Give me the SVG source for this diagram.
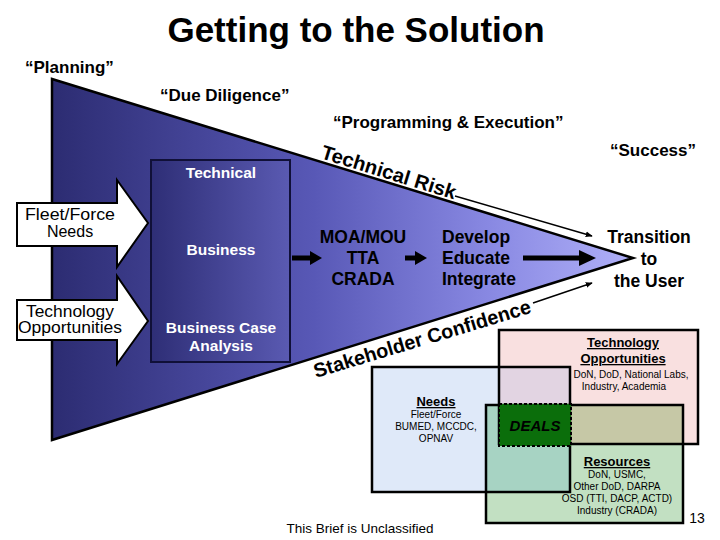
<svg xmlns="http://www.w3.org/2000/svg" width="720" height="540" viewBox="0 0 720 540">
<defs>
<linearGradient id="funnel" gradientUnits="userSpaceOnUse" x1="52" y1="0" x2="633" y2="0">
<stop offset="0" stop-color="#2c2c72"/>
<stop offset="0.45" stop-color="#5858b6"/>
<stop offset="0.75" stop-color="#8888e2"/>
<stop offset="1" stop-color="#b0b0f8"/>
</linearGradient>
<linearGradient id="boxg" gradientUnits="userSpaceOnUse" x1="151" y1="0" x2="290" y2="0">
<stop offset="0" stop-color="#2e2e76"/>
<stop offset="1" stop-color="#5a5ab2"/>
</linearGradient>
<marker id="thin" viewBox="0 0 10 10" refX="9" refY="5" markerWidth="7" markerHeight="7" orient="auto" markerUnits="userSpaceOnUse">
<path d="M0,1 L10,5 L0,9 z" fill="#000"/>
</marker>
<style>
text{font-family:"Liberation Sans",Arial,sans-serif;}
.b{font-weight:bold;}
.phase{font-size:17px;font-weight:bold;fill:#000;}
.wl{font-size:15.5px;font-weight:bold;fill:#fff;text-anchor:middle;}
.ml{font-size:17.5px;font-weight:bold;fill:#000;}
.ar{font-size:16px;fill:#000;text-anchor:middle;}
.sm{font-size:10px;fill:#000;text-anchor:middle;}
.hd{font-size:13px;font-weight:bold;fill:#000;text-anchor:middle;text-decoration:underline;}
.edge{font-size:20px;font-weight:bold;fill:#000;}
.blk{fill:#000;}
.wa{fill:#fff;stroke:#000;stroke-width:2;stroke-linejoin:miter;}
.vo{fill:none;stroke:#000;stroke-width:2.5;}
</style>
</defs>
<rect width="720" height="540" fill="#fff"/>

<text x="356" y="42" class="b" font-size="35" text-anchor="middle">Getting to the Solution</text>

<g id="phases">
<text x="25" y="73" class="phase">“Planning”</text>
<text x="160" y="101" class="phase">“Due Diligence”</text>
<text x="333" y="128" class="phase">“Programming &amp; Execution”</text>
<text x="610" y="156" class="phase">“Success”</text>
</g>

<g id="funnel-shape">
<polygon points="52,79 633,258 52,440" fill="url(#funnel)" stroke="#000" stroke-width="2.5" stroke-linejoin="miter" stroke-miterlimit="20"/>
</g>

<g id="analysis-box">
<rect x="151" y="160" width="139" height="202" fill="url(#boxg)" stroke="#101038" stroke-width="2"/>
<text x="221" y="178" class="wl">Technical</text>
<text x="221" y="255" class="wl">Business</text>
<text x="221" y="333" class="wl">Business Case</text>
<text x="221" y="351" class="wl">Analysis</text>
</g>

<g id="fleet-needs">
<polygon class="wa" points="17,203 117,203 117,180 148,223 117,267 117,246 17,246"/>
<text x="70" y="220" class="ar" textLength="90" lengthAdjust="spacingAndGlyphs">Fleet/Force</text>
<text x="70" y="237" class="ar">Needs</text>
</g>

<g id="tech-opps">
<polygon class="wa" points="17,300 117,300 117,276 148,321 117,364 117,340 17,340"/>
<text x="70" y="317" class="ar" textLength="88" lengthAdjust="spacingAndGlyphs">Technology</text>
<text x="70" y="333" class="ar" textLength="104" lengthAdjust="spacingAndGlyphs">Opportunities</text>
</g>

<g id="agreements">
<text x="363" y="243" class="ml" text-anchor="middle">MOA/MOU</text>
<text x="363" y="264" class="ml" text-anchor="middle">TTA</text>
<text x="363" y="285" class="ml" text-anchor="middle">CRADA</text>
</g>

<g id="develop">
<text x="442" y="243" class="ml">Develop</text>
<text x="442" y="264" class="ml">Educate</text>
<text x="442" y="285" class="ml">Integrate</text>
</g>

<g id="transition">
<text x="649" y="243" class="ml" text-anchor="middle">Transition</text>
<text x="649" y="265" class="ml" text-anchor="middle">to</text>
<text x="649" y="287" class="ml" text-anchor="middle">the User</text>
</g>

<g id="connectors">
<polygon class="blk" points="292,255.5 310,255.5 310,251 322,258 310,265 310,260.5 292,260.5"/>
<polygon class="blk" points="405,255.5 415,255.5 415,251 427,258 415,265 415,260.5 405,260.5"/>
<polygon class="blk" points="523,255.5 579,255.5 579,250 596,258 579,266 579,260.5 523,260.5"/>
<line x1="455" y1="196" x2="592" y2="236" stroke="#000" stroke-width="1.5" marker-end="url(#thin)"/>
<line x1="533" y1="303" x2="592" y2="283" stroke="#000" stroke-width="1.5" marker-end="url(#thin)"/>
</g>

<g id="technical-risk">
<text class="edge" transform="translate(320,158) rotate(17.2)" textLength="140" lengthAdjust="spacingAndGlyphs">Technical Risk</text>
</g>

<g id="stakeholder-confidence">
<text class="edge" transform="translate(316,378) rotate(-16.8)" textLength="226" lengthAdjust="spacingAndGlyphs">Stakeholder Confidence</text>
</g>

<g id="venn">
<rect x="372" y="367" width="198" height="125" fill="#dfe9f9"/>
<rect x="499" y="330" width="199" height="114" fill="#f9e0e0"/>
<rect x="486" y="405" width="197" height="118" fill="#c2e0c2"/>
<rect x="499" y="367" width="71" height="38" fill="#e2d4e2"/>
<rect x="486" y="405" width="84" height="87" fill="#a7d3c3"/>
<rect x="499" y="405" width="184" height="39" fill="#c6c8a6"/>
<rect class="vo" x="372" y="367" width="198" height="125"/>
<rect class="vo" x="499" y="330" width="199" height="114"/>
<rect class="vo" x="486" y="405" width="197" height="118"/>
</g>

<g id="needs">
<text x="436" y="406" class="hd">Needs</text>
<text x="436" y="418" class="sm">Fleet/Force</text>
<text x="436" y="430" class="sm">BUMED, MCCDC,</text>
<text x="436" y="442" class="sm">OPNAV</text>
</g>

<g id="technology-opportunities">
<text x="623" y="347" class="hd">Technology</text>
<text x="623" y="363" class="hd">Opportunities</text>
<text x="631" y="378" class="sm">DoN, DoD, National Labs,</text>
<text x="624" y="390" class="sm">Industry, Academia</text>
</g>

<g id="resources">
<text x="617" y="466" class="hd">Resources</text>
<text x="617" y="478" class="sm">DoN, USMC,</text>
<text x="617" y="490" class="sm">Other DoD, DARPA</text>
<text x="617" y="502" class="sm">OSD (TTI, DACP, ACTD)</text>
<text x="617" y="514" class="sm">Industry (CRADA)</text>
</g>

<g id="deals">
<rect x="499" y="404" width="72" height="42" fill="#0b6e0b" stroke="#000" stroke-width="2" stroke-dasharray="3,2"/>
<text x="535" y="431" font-size="15" font-weight="bold" font-style="italic" text-anchor="middle" fill="#000">DEALS</text>
</g>

<text x="697" y="523" font-size="14" text-anchor="middle">13</text>
<text x="360" y="533" font-size="13.5" text-anchor="middle">This Brief is Unclassified</text>
</svg>
